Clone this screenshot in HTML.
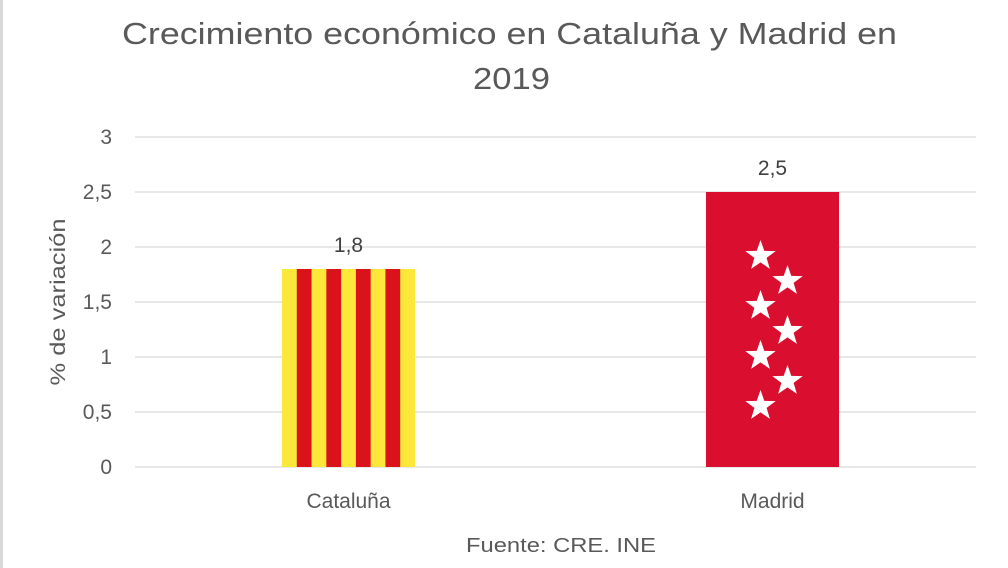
<!DOCTYPE html>
<html><head><meta charset="utf-8"><style>
body{margin:0;background:#fff;}
svg{display:block;font-family:"Liberation Sans",sans-serif;}
</style></head><body>
<svg id="c" width="1008" height="568">
<defs>
<polygon id="star" points="0,-16 3.8,-5.1 15.2,-4.9 6.1,1.9 9.4,12.9 0,6.4 -9.4,12.9 -6.1,1.9 -15.2,-4.9 -3.8,-5.1" fill="#fff"/>
</defs>
<rect x="0" y="0" width="3" height="568" fill="#d9d9d9"/>
<text x="122" y="44" font-size="31" fill="#595959" textLength="775" lengthAdjust="spacingAndGlyphs">Crecimiento económico en Cataluña y Madrid en</text>
<text x="473" y="89" font-size="31" fill="#595959" textLength="77" lengthAdjust="spacingAndGlyphs">2019</text>
<text transform="translate(65,302) rotate(-90)" text-anchor="middle" font-size="21" fill="#595959" textLength="167" lengthAdjust="spacingAndGlyphs">% de variación</text>
<text x="466" y="552" font-size="20" fill="#595959" textLength="190" lengthAdjust="spacingAndGlyphs">Fuente: CRE. INE</text>
<g id="grid"></g><g id="bars"></g>
</svg>
<script>
const categories=["Cataluña","Madrid"];
const values=[1.8,2.5];
const valueLabels=["1,8","2,5"];
const ticks=[0,0.5,1,1.5,2,2.5,3];
const tickLabels=["0","0,5","1","1,5","2","2,5","3"];
const NS="http://www.w3.org/2000/svg";
const y=v=>467-v*110;
const x0=136.5,band=424,bw=133;
const xc=i=>x0+band*(i+0.5);
function mk(t,a,p){const e=document.createElementNS(NS,t);for(const k in a)e.setAttribute(k,a[k]);p.appendChild(e);return e;}
const g=document.getElementById('grid'),b=document.getElementById('bars');
ticks.forEach((t,i)=>{
 const l=mk('line',{x1:135,x2:976,y1:y(t),y2:y(t),stroke:'#d9d9d9','stroke-width':1.3},g);
 
 
 const tx=mk('text',{x:112,y:y(t)+7,'text-anchor':'end','font-size':21,fill:'#595959'},g);
 tx.textContent=tickLabels[i];
 
 
});
values.forEach((v,i)=>{
 const left=xc(i)-bw/2,top=y(v),h=y(0)-y(v);
 const grp=mk('g',{},b);
 
 
 if(i===0){
  mk('rect',{x:left,y:top,width:bw,height:h,fill:'#fce83a'},grp);
  const sw=bw/9;
  for(let k=1;k<9;k+=2)mk('rect',{x:left+k*sw,y:top,width:sw,height:h,fill:'#da121a'},grp);
 }else{
  mk('rect',{x:left,y:top,width:bw,height:h,fill:'#da0e2f'},grp);
  const cx=xc(i);
  for(let k=0;k<7;k++){
   mk('use',{href:'#star',x:cx+(k%2?15:-12),y:top+64+k*25},grp);
  }
 }
 const lv=mk('text',{x:xc(i),y:top-17,'text-anchor':'middle','font-size':21,fill:'#404040'},b);
 lv.textContent=valueLabels[i];
 
 
 const cl=mk('text',{x:xc(i),y:508,'text-anchor':'middle','font-size':21,fill:'#595959'},b);
 cl.textContent=categories[i];
 
 
});
</script>
</body></html>
